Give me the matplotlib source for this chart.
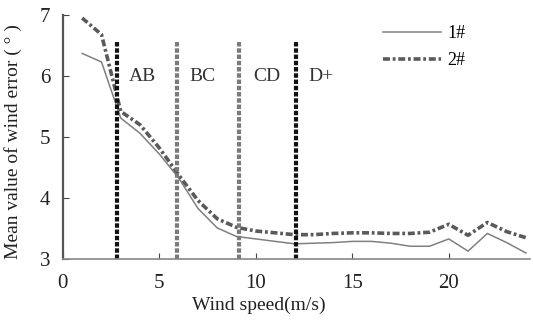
import numpy as np
import matplotlib
matplotlib.use('Agg')
from matplotlib import pyplot as plt

plt.rcParams['font.family'] = ['Liberation Serif', 'DejaVu Serif']
plt.rcParams['lines.scale_dashes'] = False

# wind speed (m/s)
speed = np.arange(1, 25)
# mean wind error, 1# and 2#
err_1 = [6.37, 6.23, 5.31, 5.06, 4.72, 4.33, 3.83, 3.51, 3.37, 3.33, 3.29, 3.25,
         3.26, 3.27, 3.29, 3.29, 3.26, 3.21, 3.21, 3.33, 3.13, 3.42, 3.27, 3.10]
err_2 = [6.95, 6.68, 5.42, 5.20, 4.82, 4.38, 3.96, 3.66, 3.52, 3.46, 3.43, 3.40,
         3.40, 3.42, 3.43, 3.43, 3.42, 3.42, 3.44, 3.57, 3.39, 3.60, 3.45, 3.35]

# zone borders and labels
borders = [2.8, 5.9, 9.15, 12.1]
border_colors = ['#111111', '#7a7a7a', '#7a7a7a', '#111111']
zones = ['AB', 'BC', 'CD', 'D+']
zone_x = [4.1, 7.25, 10.55, 13.4]

fig = plt.figure(figsize=(5.33, 3.33), dpi=100)
ax = fig.add_axes([0.118, 0.222, 0.876, 0.733])

ax.plot(speed, err_1, color='#808080', lw=1.1, label='1#')
ax.plot(speed, err_2, color='#5a5a5a', lw=2.6, linestyle=(0, (5, 2, 2, 2)), label='2#')

for b, c in zip(borders, border_colors):
    ax.plot([b, b], [3, 6.58], color=c, lw=3.0, linestyle=(0, (3.2, 1.3)))

for z, zx in zip(zones, zone_x):
    ax.text(zx, 6.0, z, fontsize=14, color='#333333', ha='center', va='center')

ax.set_xlim(0, 24.2)
ax.set_ylim(3, 7)
ax.set_xticks([0, 5, 10, 15, 20])
ax.set_yticks([3, 4, 5, 6, 7])
ax.tick_params(direction='in', labelsize=15, length=4, colors='#444444', labelcolor='#222222')
ax.tick_params(axis='x', pad=11)
ax.tick_params(axis='y', pad=9)

for s in ['top', 'right']:
    ax.spines[s].set_visible(False)
ax.spines['left'].set_color('#555555')
ax.spines['left'].set_linewidth(1.6)
ax.spines['bottom'].set_color('#888888')
ax.spines['bottom'].set_linewidth(1.2)

ax.set_xlabel('Wind speed(m/s)', fontsize=14, color='#222222')
ax.xaxis.set_label_coords(0.42, -0.155)
ax.set_ylabel('Mean value of wind error ( ° )', fontsize=14, color='#222222')
ax.yaxis.set_label_coords(-0.088, 0.48)

ax.legend(loc='upper left', bbox_to_anchor=(0.685, 0.958), frameon=False,
          fontsize=13, handlelength=3.2, handletextpad=0.4, borderpad=0,
          borderaxespad=0, labelspacing=0.55)

plt.savefig('out.png', dpi=100)
